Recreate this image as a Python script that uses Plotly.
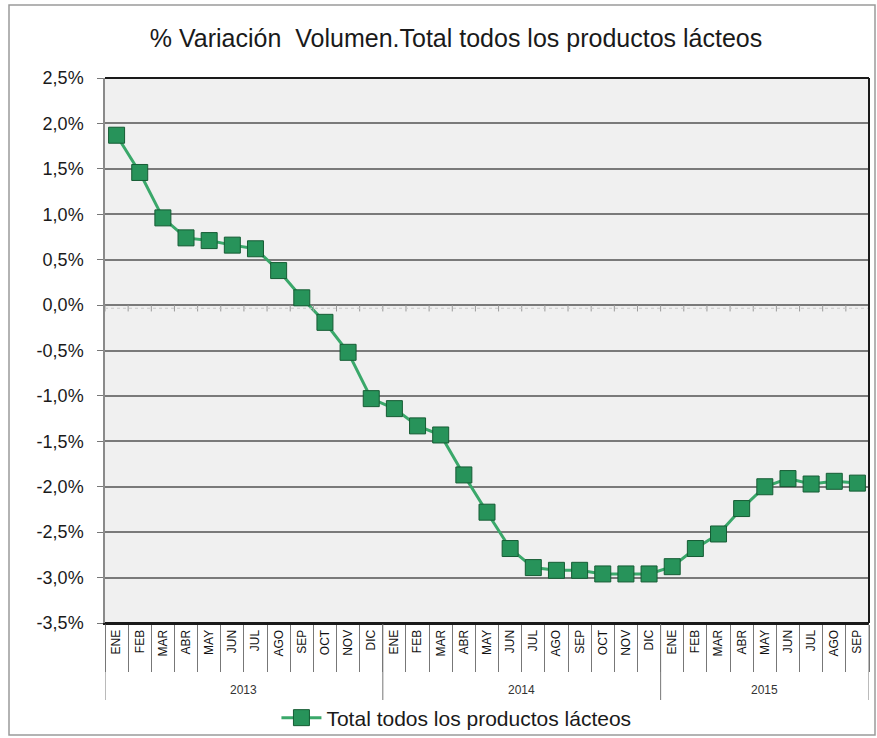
import plotly.graph_objects as go

# Monthly year-on-year change in total dairy volume (%)
years = ["2013"] * 12 + ["2014"] * 12 + ["2015"] * 9
months = ["ENE", "FEB", "MAR", "ABR", "MAY", "JUN", "JUL", "AGO", "SEP", "OCT", "NOV", "DIC",
          "ENE", "FEB", "MAR", "ABR", "MAY", "JUN", "JUL", "AGO", "SEP", "OCT", "NOV", "DIC",
          "ENE", "FEB", "MAR", "ABR", "MAY", "JUN", "JUL", "AGO", "SEP"]
variacion = [1.87, 1.46, 0.96, 0.74, 0.71, 0.66, 0.62, 0.38, 0.08, -0.19, -0.52, -1.03,
             -1.14, -1.33, -1.43, -1.87, -2.28, -2.68, -2.89, -2.92, -2.92, -2.96, -2.96, -2.96,
             -2.88, -2.68, -2.52, -2.24, -2.00, -1.91, -1.97, -1.94, -1.96]
y_ticks = [2.5, 2.0, 1.5, 1.0, 0.5, 0.0, -0.5, -1.0, -1.5, -2.0, -2.5, -3.0, -3.5]
y_tick_text = [f"{v:.1f}".replace(".", ",") + "%" for v in y_ticks]

series_name = "Total todos los productos lácteos"
title_text = "% Variación  Volumen.Total todos los productos lácteos"

# One unique category per month; the axis shows only the month abbreviation
periods = [f"{m} {y}" for m, y in zip(months, years)]
year_list = sorted(set(years))

fig = go.Figure()
fig.add_trace(go.Scatter(
    x=periods,
    y=variacion,
    mode="lines+markers",
    name=series_name,
    line=dict(color="#3aa86a", width=3),
    marker=dict(symbol="square", size=16, color="#27935a",
                line=dict(color="#155c34", width=1)),
))

n = len(periods)
plot_h = 545

# Small tick marks hanging from the zero line at each category boundary
for i in range(n + 1):
    fig.add_shape(type="line", xref="x", yref="y",
                  x0=i - 0.5, x1=i - 0.5, y0=0, y1=-0.07,
                  line=dict(color="#9a9a9a", width=1))
fig.add_shape(type="line", xref="paper", yref="y", x0=0, x1=1, y0=-0.035, y1=-0.035,
              line=dict(color="#c8c8c8", width=1, dash="dot"))

# Year group labels and the long dividers between years
start = 0
for yr in year_list:
    count = years.count(yr)
    fig.add_annotation(x=start + (count - 1) / 2, xref="x", y=-67 / plot_h, yref="paper",
                       text=yr, showarrow=False, yanchor="middle",
                       font=dict(size=12, color="#333333"))
    fig.add_shape(type="line", xref="x", yref="paper",
                  x0=start - 0.5, x1=start - 0.5, y0=0, y1=-77 / plot_h,
                  line=dict(color="#777777", width=1))
    start += count
fig.add_shape(type="line", xref="x", yref="paper",
              x0=start - 0.5, x1=start - 0.5, y0=0, y1=-77 / plot_h,
              line=dict(color="#777777", width=1))

# Heavy top/right/bottom frame of the plot area
fig.add_shape(type="line", xref="paper", yref="paper", x0=0, x1=1, y0=1, y1=1,
              line=dict(color="#1a1a1a", width=2))
fig.add_shape(type="line", xref="paper", yref="paper", x0=1, x1=1, y0=0, y1=1,
              line=dict(color="#1a1a1a", width=2))
fig.add_shape(type="line", xref="paper", yref="paper", x0=0, x1=1, y0=0, y1=0,
              line=dict(color="#1a1a1a", width=2))

# Outer chart border
fig.add_shape(type="rect", xref="paper", yref="paper",
              x0=-96 / 764, x1=1 + 6 / 764, y0=-112 / plot_h, y1=1 + 73 / plot_h,
              line=dict(color="#9a9a9a", width=1.5), layer="below")

fig.update_layout(
    width=877, height=738,
    margin=dict(l=105, r=8, t=78, b=115, autoexpand=False),
    paper_bgcolor="white",
    plot_bgcolor="#f0f0f0",
    font=dict(family="Liberation Sans, Arial, sans-serif", color="#1a1a1a"),
    title=dict(text=title_text, x=0.52, xanchor="center", y=1 - 38 / 738, yanchor="middle",
               font=dict(size=25, color="#1a1a1a")),
    showlegend=True,
    legend=dict(orientation="h", x=0.46, xanchor="center", y=-95 / plot_h, yanchor="middle",
                itemwidth=40,
                font=dict(size=21, color="#1a1a1a"), bgcolor="rgba(0,0,0,0)"),
    xaxis=dict(
        type="category",
        range=[-0.5, n - 0.5],
        tickvals=periods, ticktext=months,
        tickangle=-90,
        tickfont=dict(size=12, color="#111111"),
        ticks="outside", ticklen=47, tickcolor="#777777", tickwidth=1,
        tickson="boundaries",
        showline=True, linecolor="#1a1a1a", linewidth=2,
        showgrid=False, automargin=False,
    ),
    yaxis=dict(
        range=[-3.5, 2.5],
        tickvals=y_ticks, ticktext=y_tick_text,
        tickfont=dict(size=18, color="#1a1a1a"),
        ticks="outside", ticklen=6, tickcolor="#777777",
        ticklabelstandoff=10,
        showgrid=True, gridcolor="#7a7a7a", gridwidth=1.5,
        zeroline=False,
        showline=True, linecolor="#8a8a8a", linewidth=1.5,
        automargin=False,
    ),
)

fig.write_html("out.html")
